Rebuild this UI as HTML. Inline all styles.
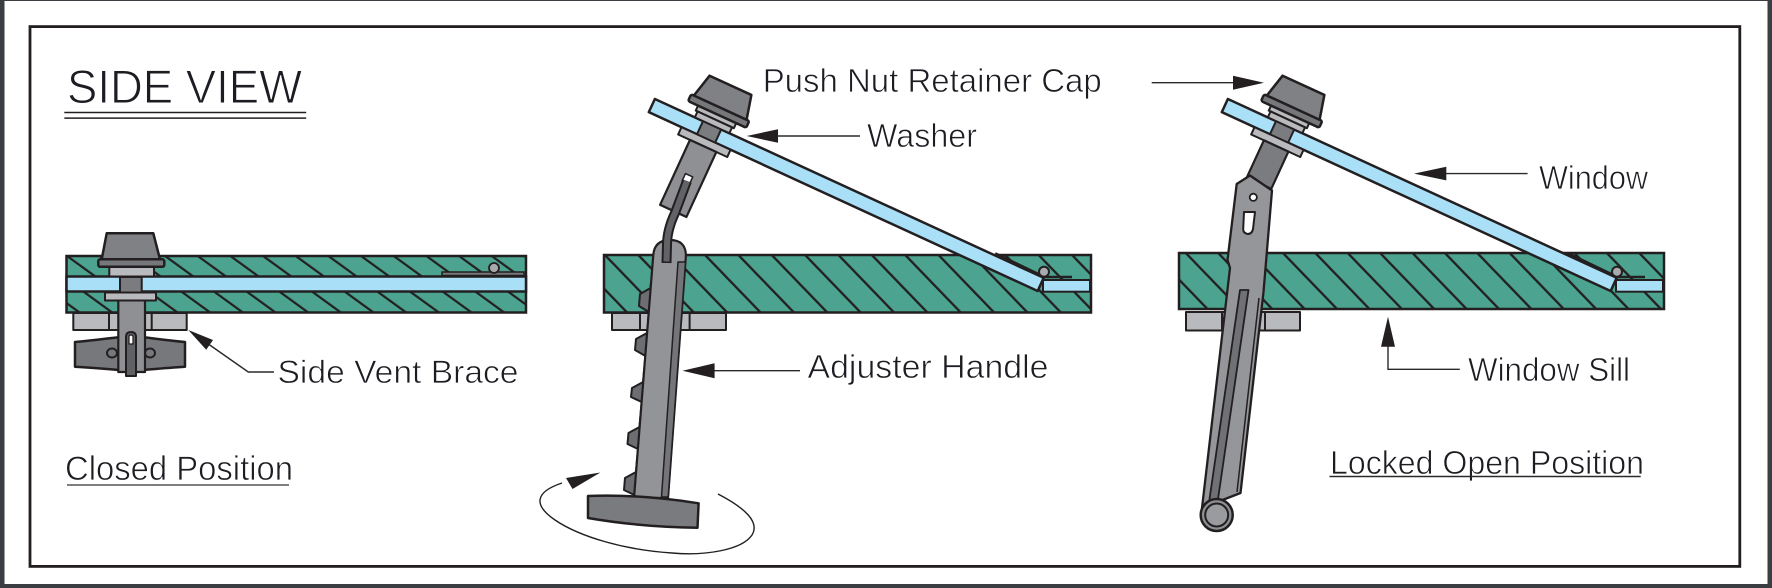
<!DOCTYPE html>
<html>
<head>
<meta charset="utf-8">
<style>
  html, body { margin: 0; padding: 0; background: #ffffff; }
  svg { display: block; }
  text { font-family: "Liberation Sans", "DejaVu Sans", sans-serif; fill: #1e1c22; stroke: #ffffff; stroke-width: 0.7px; }
</style>
</head>
<body>
<svg width="1772" height="588" viewBox="0 0 1772 588" xmlns="http://www.w3.org/2000/svg">
  <defs>
    <pattern id="hL" patternUnits="userSpaceOnUse" width="19.2" height="20" patternTransform="translate(164.6,257) rotate(-54)">
      <rect width="19.2" height="20" fill="#4ba390"/>
      <rect x="0" y="0" width="2.2" height="20" fill="#231f20"/>
    </pattern>
    <pattern id="hM" patternUnits="userSpaceOnUse" width="24" height="20" patternTransform="translate(636.7,255) rotate(-44)">
      <rect width="24" height="20" fill="#4ba390"/>
      <rect x="0" y="0" width="2.3" height="20" fill="#231f20"/>
    </pattern>
    <pattern id="hR" patternUnits="userSpaceOnUse" width="23.3" height="20" patternTransform="translate(1443.3,253) rotate(-44)">
      <rect width="23.3" height="20" fill="#4ba390"/>
      <rect x="0" y="0" width="2.3" height="20" fill="#231f20"/>
    </pattern>

    <g id="asm">
      <g transform="translate(712.1,125.3) rotate(24.7)" stroke="#231f20" stroke-linejoin="round">
        <rect x="-63" y="0" width="428" height="14.5" fill="#a9dff7" stroke-width="2.5"/>
        <rect x="-10" y="-2" width="20" height="18" fill="#7b7c80" stroke-width="2"/>
        <rect x="-27" y="14.5" width="54" height="8" fill="#b9babd" stroke-width="2"/>
        <rect x="-21" y="-12" width="42" height="5.5" fill="#b9babd" stroke-width="2"/>
        <rect x="-19" y="-6.5" width="38" height="6.5" fill="#b9babd" stroke-width="2"/>
        <rect x="-32" y="-19.5" width="64" height="7.5" rx="2" fill="#76777b" stroke-width="2.5"/>
        <path d="M-23,-44 L23,-44 L29,-19.5 L-29,-19.5 Z" fill="#808185" stroke-width="2.5"/>
      </g>
      <line x1="995" y1="253.8" x2="1041" y2="275.8" stroke="#231f20" stroke-width="3.5"/>
      <line x1="1042" y1="277" x2="1072" y2="277" stroke="#231f20" stroke-width="2.5"/>
      <rect x="1043" y="280" width="47" height="11.7" fill="#a9dff7" stroke="#231f20" stroke-width="2"/>
      <circle cx="1044" cy="271.7" r="5" fill="#a9aaad" stroke="#231f20" stroke-width="2"/>
    </g>
  </defs>

  <rect width="1772" height="588" fill="#3a3e42"/>
  <rect x="4.5" y="1" width="1763" height="583" fill="#ffffff"/>
  <rect x="30" y="26.6" width="1709.8" height="539.8" fill="none" stroke="#231f20" stroke-width="2.8"/>

  <text x="67" y="103" font-size="47" textLength="235" lengthAdjust="spacingAndGlyphs" style="stroke-width:1px">SIDE VIEW</text>
  <line x1="64.3" y1="112.5" x2="306.2" y2="112.5" stroke="#231f20" stroke-width="1.5"/>
  <line x1="64.3" y1="118.1" x2="306.2" y2="118.1" stroke="#231f20" stroke-width="1.5"/>

  <rect x="66.5" y="256" width="459.5" height="56.5" fill="url(#hL)" stroke="#231f20" stroke-width="2.5"/>
  <rect x="66.5" y="276.5" width="459.5" height="15" fill="#a9dff7" stroke="#231f20" stroke-width="2.5"/>
  <rect x="442" y="272" width="82" height="3.5" fill="#77787c" stroke="#231f20" stroke-width="1.5"/>
  <circle cx="494" cy="268" r="5" fill="#a8a9ac" stroke="#231f20" stroke-width="1.8"/>

  <g stroke="#231f20" stroke-linejoin="round">
    <rect x="73.3" y="313" width="113.4" height="17" fill="#b9babd" stroke-width="2"/>
    <line x1="109" y1="313" x2="109" y2="330" stroke-width="2"/>
    <line x1="151.7" y1="313" x2="151.7" y2="330" stroke-width="2"/>
    <path d="M75,342 C100,340 116,337 131,336 C146,337 162,340 185,342 L185,366.7 C162,368 146,370 131,371 C116,370 100,368 75,366.7 Z" fill="#77787c" stroke-width="2.5"/>
    <ellipse cx="112" cy="353" rx="5" ry="4.5" fill="#77787c" stroke-width="2"/>
    <ellipse cx="150" cy="353" rx="5" ry="4.5" fill="#77787c" stroke-width="2"/>
    <rect x="118.3" y="300" width="26.7" height="72" fill="#8f9094" stroke-width="2.2"/>
    <path d="M126,376 L126,337 Q126,332 131,332 Q136,332 136,337 L136,376 Z" fill="#606165" stroke-width="2"/>
    <path d="M129,344 L129,337 Q129,335 131,335 Q133,335 133,337 L133,344 Z" fill="#ffffff" stroke-width="1.2"/>
    <rect x="105" y="292.5" width="51" height="8" fill="#b9babd" stroke-width="2"/>
    <rect x="120" y="277" width="21.7" height="15.5" fill="#7b7c80" stroke-width="2"/>
    <rect x="109.3" y="267" width="44.7" height="9.5" fill="#b9babd" stroke-width="2"/>
    <rect x="98.3" y="259.3" width="66" height="7.5" rx="2" fill="#76777b" stroke-width="2.5"/>
    <path d="M106.7,233.3 L153.3,233.3 L160,259.3 L101.7,259.3 Z" fill="#808185" stroke-width="2.5"/>
  </g>

  <polyline points="209,344.5 248.3,372 274,372" fill="none" stroke="#2a2a2a" stroke-width="1.4"/>
  <polygon points="188.3,330 206.2,349.8 213,340" fill="#231f20"/>
  <text x="277.5" y="383" font-size="32" textLength="241" lengthAdjust="spacingAndGlyphs">Side Vent Brace</text>

  <text x="65" y="480" font-size="34" textLength="228" lengthAdjust="spacingAndGlyphs">Closed Position</text>
  <line x1="67" y1="485" x2="289" y2="485" stroke="#555555" stroke-width="1.6"/>

  <rect x="604" y="255" width="487" height="57.5" fill="url(#hM)" stroke="#231f20" stroke-width="2.5"/>
  <g stroke="#231f20" stroke-linejoin="round">
    <rect x="612" y="313" width="114" height="17" fill="#b9babd" stroke-width="2"/>
    <line x1="689.6" y1="313" x2="689.6" y2="330" stroke-width="2"/>
    <line x1="640" y1="313" x2="640" y2="330" stroke-width="2"/>
    <path d="M655,282 L650.5,285 L650.6,288 L640,294 L639,306 L648.8,312 L647.5,330 L647,333 L636,339 L635,350 L645.4,356 L643.3,379 L643.1,382 L632,388 L631,397 L641.7,402 L639.7,424 L639.5,427 L628.5,433 L627.5,444 L638,449 L636.2,469 L636,472 L625,478 L624,490 L634.3,495 L634,498 L645,498 Z" fill="#6d6e72" stroke-width="2"/>
    <path d="M653.2,256 Q654,240 670,240 Q686,240 685.9,256 L668,498 L634,498 Z" fill="#939498" stroke-width="2.2"/>
    <polygon points="678,262 685.5,262 668.2,497 661.5,497" fill="#747579" stroke-width="1.5"/>
    <path d="M588,496 Q640,494 698.6,503.3 L697.5,527.7 Q640,527 588,518 Z" fill="#7a7b7f" stroke-width="2.5"/>
  </g>

  <use href="#asm"/>

  <g transform="translate(712.1,125.3) rotate(24.7)" stroke="#231f20" stroke-linejoin="round">
    <rect x="-14" y="22.5" width="29" height="71.5" fill="#8f9094" stroke-width="2.2"/>
    <rect x="-4" y="55" width="8" height="8" fill="#ffffff" stroke-width="1.5"/>
  </g>
  <path d="M687,181 L675,213 Q667,230 667,245 L666.5,263" fill="none" stroke="#231f20" stroke-width="10"/>
  <path d="M687,181 L675,213 Q667,230 667,245 L666.5,261.5" fill="none" stroke="#626367" stroke-width="6"/>

  <path d="M718,494 C745,508 760,522 752,535 C742,550 705,556 672,553 C625,550 580,537 555,520 C533,505 535,492 562,483" fill="none" stroke="#231f20" stroke-width="1.4"/>
  <polygon points="600.4,472.5 566,478 572.5,489" fill="#231f20"/>

  <text x="762.7" y="92" font-size="33" textLength="339" lengthAdjust="spacingAndGlyphs">Push Nut Retainer Cap</text>
  <line x1="777" y1="136" x2="860" y2="136" stroke="#2a2a2a" stroke-width="1.4"/>
  <polygon points="746.7,136 778,129.2 778,142.8" fill="#231f20"/>
  <text x="867" y="147" font-size="33" textLength="110" lengthAdjust="spacingAndGlyphs">Washer</text>

  <line x1="713" y1="370.7" x2="800" y2="370.7" stroke="#2a2a2a" stroke-width="1.4"/>
  <polygon points="682.5,370.7 714.6,363.2 714.6,378.2" fill="#231f20"/>
  <text x="807.5" y="378" font-size="33" textLength="241" lengthAdjust="spacingAndGlyphs">Adjuster Handle</text>

  <rect x="1179" y="253" width="485" height="56" fill="url(#hR)" stroke="#231f20" stroke-width="2.5"/>
  <g stroke="#231f20" stroke-linejoin="round">
    <rect x="1186" y="312" width="114" height="18.5" fill="#b9babd" stroke-width="2"/>
    <line x1="1222" y1="312" x2="1222" y2="330.5" stroke-width="2"/>
    <line x1="1265" y1="312" x2="1265" y2="330.5" stroke-width="2"/>
  </g>

  <use href="#asm" transform="translate(573,0)"/>

  <g stroke="#231f20" stroke-linejoin="round">
    <g transform="translate(1285.1,125.3) rotate(24.7)">
      <rect x="-13" y="22.5" width="27" height="41" fill="#7b7c80" stroke-width="2.2"/>
    </g>
    <path d="M1236.7,184 L1250,175.5 L1272,190.5 L1263.5,292 L1240.5,493 L1202,508 L1230,268 L1227.5,260 Z" fill="#959699" stroke-width="2.3"/>
    <line x1="1259" y1="298" x2="1237" y2="492" stroke-width="1.5"/>
    <polygon points="1240,290 1248.5,290 1217,506 1208.5,506" fill="#707175" stroke-width="1.8"/>
    <circle cx="1253.3" cy="197.3" r="3.6" fill="#ffffff" stroke-width="1.8"/>
    <path d="M1244,212 L1255,212 L1253,229 Q1252,234 1247.5,234 Q1243,233 1243.2,229 Z" fill="#ffffff" stroke-width="2"/>
    <circle cx="1216.7" cy="515" r="16" fill="#8f9094" stroke-width="2.5"/>
    <circle cx="1216.7" cy="515" r="11.5" fill="#9a9b9f" stroke-width="2"/>
  </g>

  <line x1="1151.7" y1="82.7" x2="1234" y2="82.7" stroke="#2a2a2a" stroke-width="1.4"/>
  <polygon points="1264,82.7 1233,75.7 1233,89.7" fill="#231f20"/>

  <line x1="1445" y1="173.6" x2="1527.6" y2="173.6" stroke="#2a2a2a" stroke-width="1.4"/>
  <polygon points="1414,173.6 1446.3,166.8 1446.3,180.4" fill="#231f20"/>
  <text x="1539" y="189" font-size="33" textLength="109" lengthAdjust="spacingAndGlyphs">Window</text>

  <polyline points="1388,345 1388,369.3 1459.8,369.3" fill="none" stroke="#2a2a2a" stroke-width="1.4"/>
  <polygon points="1388,316.8 1381,346.8 1395,346.8" fill="#231f20"/>
  <text x="1468" y="381" font-size="33" textLength="162" lengthAdjust="spacingAndGlyphs">Window Sill</text>

  <text x="1330" y="474" font-size="33" textLength="314" lengthAdjust="spacingAndGlyphs">Locked Open Position</text>
  <line x1="1329.5" y1="476.5" x2="1640.7" y2="476.5" stroke="#2a2a2a" stroke-width="1.4"/>
</svg>
</body>
</html>
